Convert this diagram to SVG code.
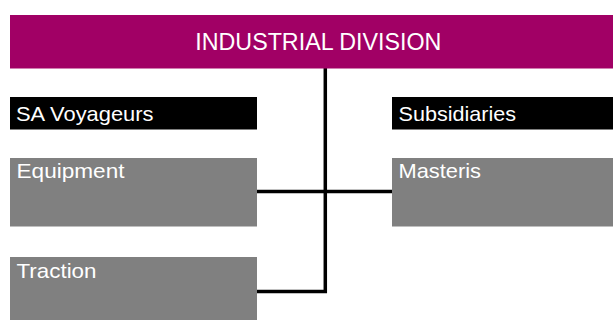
<svg xmlns="http://www.w3.org/2000/svg" width="613" height="320" viewBox="0 0 613 320">
<style>
.t{font-family:"Liberation Sans",Arial,sans-serif;fill:#fff}
.h{font-size:21px}
.g{fill:#808080}
.k{fill:#000}
.c{stroke:#000;stroke-width:3.5;fill:none}
</style>
<rect width="613" height="320" fill="#fff"/>
<g id="connectors">
<path class="c" d="M325.3,68 V291.5 H257"/>
<path class="c" d="M257,191.5 H392"/>
</g>
<g id="industrial-division">
<rect x="10" y="15" width="603" height="53.5" fill="#A10065"/>
<text class="t" x="318.3" y="49.5" font-size="23" text-anchor="middle" textLength="246" lengthAdjust="spacingAndGlyphs">INDUSTRIAL DIVISION</text>
</g>
<g id="sa-voyageurs">
<rect class="k" x="10" y="97" width="247" height="32.5"/>
<text class="t h" x="16" y="120.7" textLength="137.5" lengthAdjust="spacingAndGlyphs">SA Voyageurs</text>
</g>
<g id="subsidiaries">
<rect class="k" x="392" y="97" width="221" height="32.5"/>
<text class="t h" x="398.5" y="120.7" textLength="117.5" lengthAdjust="spacingAndGlyphs">Subsidiaries</text>
</g>
<g id="equipment">
<rect class="g" x="10" y="158" width="247" height="68.5"/>
<text class="t h" x="16.5" y="177.5" textLength="108" lengthAdjust="spacingAndGlyphs">Equipment</text>
</g>
<g id="masteris">
<rect class="g" x="392" y="158" width="221" height="68.5"/>
<text class="t h" x="398.5" y="177.5" textLength="82.5" lengthAdjust="spacingAndGlyphs">Masteris</text>
</g>
<g id="traction">
<rect class="g" x="10" y="257" width="247" height="63"/>
<text class="t h" x="16.5" y="277.5" textLength="80" lengthAdjust="spacingAndGlyphs">Traction</text>
</g>
</svg>
